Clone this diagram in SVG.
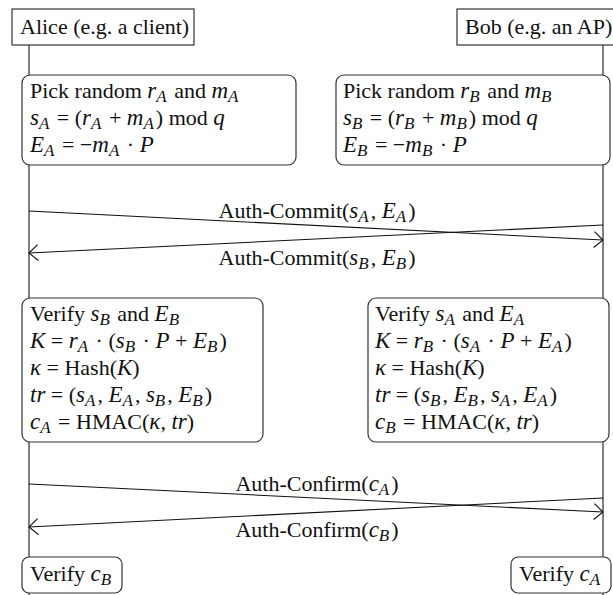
<svg xmlns="http://www.w3.org/2000/svg" width="613" height="595" viewBox="0 0 613 595">
<style>
text{font-family:"Liberation Serif","DejaVu Serif",serif;font-size:22px;fill:#111}
.i{font-style:italic;font-size:23px}
.sb{font-style:italic;font-size:17px;baseline-shift:-4px;letter-spacing:2px}
.life{stroke:#555;stroke-width:1.5;fill:none}
.hdr{fill:#fff;stroke:#333;stroke-width:1.2}
.box{fill:#fff;stroke:#333;stroke-width:1.2}
.msg{stroke:#111;stroke-width:1.1;fill:none;marker-end:url(#ah)}
</style>
<defs>
<marker id="ah" viewBox="0 0 12 18" refX="11" refY="9" markerWidth="12" markerHeight="18" markerUnits="userSpaceOnUse" orient="auto">
<path d="M2,1 L11,9 L2,17" fill="none" stroke="#111" stroke-width="1.1"/>
</marker>
</defs>
<g id="lifelines">
<line class="life" x1="29" y1="45" x2="29" y2="595"/>
<line class="life" x1="603" y1="45" x2="603" y2="595"/>
</g>
<g id="alice">
<rect class="hdr" x="12" y="9" width="182" height="36"/>
<text x="20" y="34">Alice (e.g. a client)</text>
</g>
<g id="bob">
<rect class="hdr" x="457" y="9" width="162" height="36"/>
<text x="465" y="34">Bob (e.g. an AP)</text>
</g>
<g id="pickA">
<rect class="box" x="22" y="75" width="274" height="90" rx="8"/>
<text x="30" y="98">Pick random <tspan class="i">r</tspan><tspan class="sb">A</tspan> and <tspan class="i">m</tspan><tspan class="sb">A</tspan></text>
<text x="30" y="125"><tspan class="i">s</tspan><tspan class="sb">A</tspan> = (<tspan class="i">r</tspan><tspan class="sb">A</tspan> + <tspan class="i">m</tspan><tspan class="sb">A</tspan>) mod <tspan class="i">q</tspan></text>
<text x="30" y="152"><tspan class="i">E</tspan><tspan class="sb">A</tspan> = −<tspan class="i">m</tspan><tspan class="sb">A</tspan> · <tspan class="i">P</tspan></text>
</g>
<g id="pickB">
<rect class="box" x="336" y="75" width="274" height="90" rx="8"/>
<text x="343" y="98">Pick random <tspan class="i">r</tspan><tspan class="sb">B</tspan> and <tspan class="i">m</tspan><tspan class="sb">B</tspan></text>
<text x="343" y="125"><tspan class="i">s</tspan><tspan class="sb">B</tspan> = (<tspan class="i">r</tspan><tspan class="sb">B</tspan> + <tspan class="i">m</tspan><tspan class="sb">B</tspan>) mod <tspan class="i">q</tspan></text>
<text x="343" y="152"><tspan class="i">E</tspan><tspan class="sb">B</tspan> = −<tspan class="i">m</tspan><tspan class="sb">B</tspan> · <tspan class="i">P</tspan></text>
</g>
<g id="verifyA">
<rect class="box" x="22" y="298" width="241" height="144" rx="8"/>
<text x="30" y="321">Verify <tspan class="i">s</tspan><tspan class="sb">B</tspan> and <tspan class="i">E</tspan><tspan class="sb">B</tspan></text>
<text x="30" y="348"><tspan class="i">K</tspan> = <tspan class="i">r</tspan><tspan class="sb">A</tspan> · (<tspan class="i">s</tspan><tspan class="sb">B</tspan> · <tspan class="i">P</tspan> + <tspan class="i">E</tspan><tspan class="sb">B</tspan>)</text>
<text x="30" y="375"><tspan class="i">κ</tspan> = Hash(<tspan class="i">K</tspan>)</text>
<text x="30" y="402"><tspan class="i">tr</tspan> = (<tspan class="i">s</tspan><tspan class="sb">A</tspan>, <tspan class="i">E</tspan><tspan class="sb">A</tspan>, <tspan class="i">s</tspan><tspan class="sb">B</tspan>, <tspan class="i">E</tspan><tspan class="sb">B</tspan>)</text>
<text x="30" y="429"><tspan class="i">c</tspan><tspan class="sb">A</tspan> = HMAC(<tspan class="i">κ</tspan>, <tspan class="i">tr</tspan>)</text>
</g>
<g id="verifyB">
<rect class="box" x="368" y="298" width="241" height="144" rx="8"/>
<text x="375" y="321">Verify <tspan class="i">s</tspan><tspan class="sb">A</tspan> and <tspan class="i">E</tspan><tspan class="sb">A</tspan></text>
<text x="375" y="348"><tspan class="i">K</tspan> = <tspan class="i">r</tspan><tspan class="sb">B</tspan> · (<tspan class="i">s</tspan><tspan class="sb">A</tspan> · <tspan class="i">P</tspan> + <tspan class="i">E</tspan><tspan class="sb">A</tspan>)</text>
<text x="375" y="375"><tspan class="i">κ</tspan> = Hash(<tspan class="i">K</tspan>)</text>
<text x="375" y="402"><tspan class="i">tr</tspan> = (<tspan class="i">s</tspan><tspan class="sb">B</tspan>, <tspan class="i">E</tspan><tspan class="sb">B</tspan>, <tspan class="i">s</tspan><tspan class="sb">A</tspan>, <tspan class="i">E</tspan><tspan class="sb">A</tspan>)</text>
<text x="375" y="429"><tspan class="i">c</tspan><tspan class="sb">B</tspan> = HMAC(<tspan class="i">κ</tspan>, <tspan class="i">tr</tspan>)</text>
</g>
<g id="checkA">
<rect class="box" x="22" y="557" width="100" height="36" rx="7"/>
<text x="30" y="581">Verify <tspan class="i">c</tspan><tspan class="sb">B</tspan></text>
</g>
<g id="checkB">
<rect class="box" x="511" y="557" width="100" height="36" rx="7"/>
<text x="519" y="581">Verify <tspan class="i">c</tspan><tspan class="sb">A</tspan></text>
</g>
<g id="connectors">
<line class="msg" x1="29" y1="211" x2="603" y2="240"/>
<line class="msg" x1="603" y1="225" x2="29" y2="253"/>
<line class="msg" x1="29" y1="484" x2="603" y2="512"/>
<line class="msg" x1="603" y1="498" x2="29" y2="527"/>
<text x="317" y="218" text-anchor="middle">Auth-Commit(<tspan class="i">s</tspan><tspan class="sb">A</tspan>, <tspan class="i">E</tspan><tspan class="sb">A</tspan>)</text>
<text x="317" y="265" text-anchor="middle">Auth-Commit(<tspan class="i">s</tspan><tspan class="sb">B</tspan>, <tspan class="i">E</tspan><tspan class="sb">B</tspan>)</text>
<text x="317" y="491" text-anchor="middle">Auth-Confirm(<tspan class="i">c</tspan><tspan class="sb">A</tspan>)</text>
<text x="317" y="537" text-anchor="middle">Auth-Confirm(<tspan class="i">c</tspan><tspan class="sb">B</tspan>)</text>
</g>
</svg>
